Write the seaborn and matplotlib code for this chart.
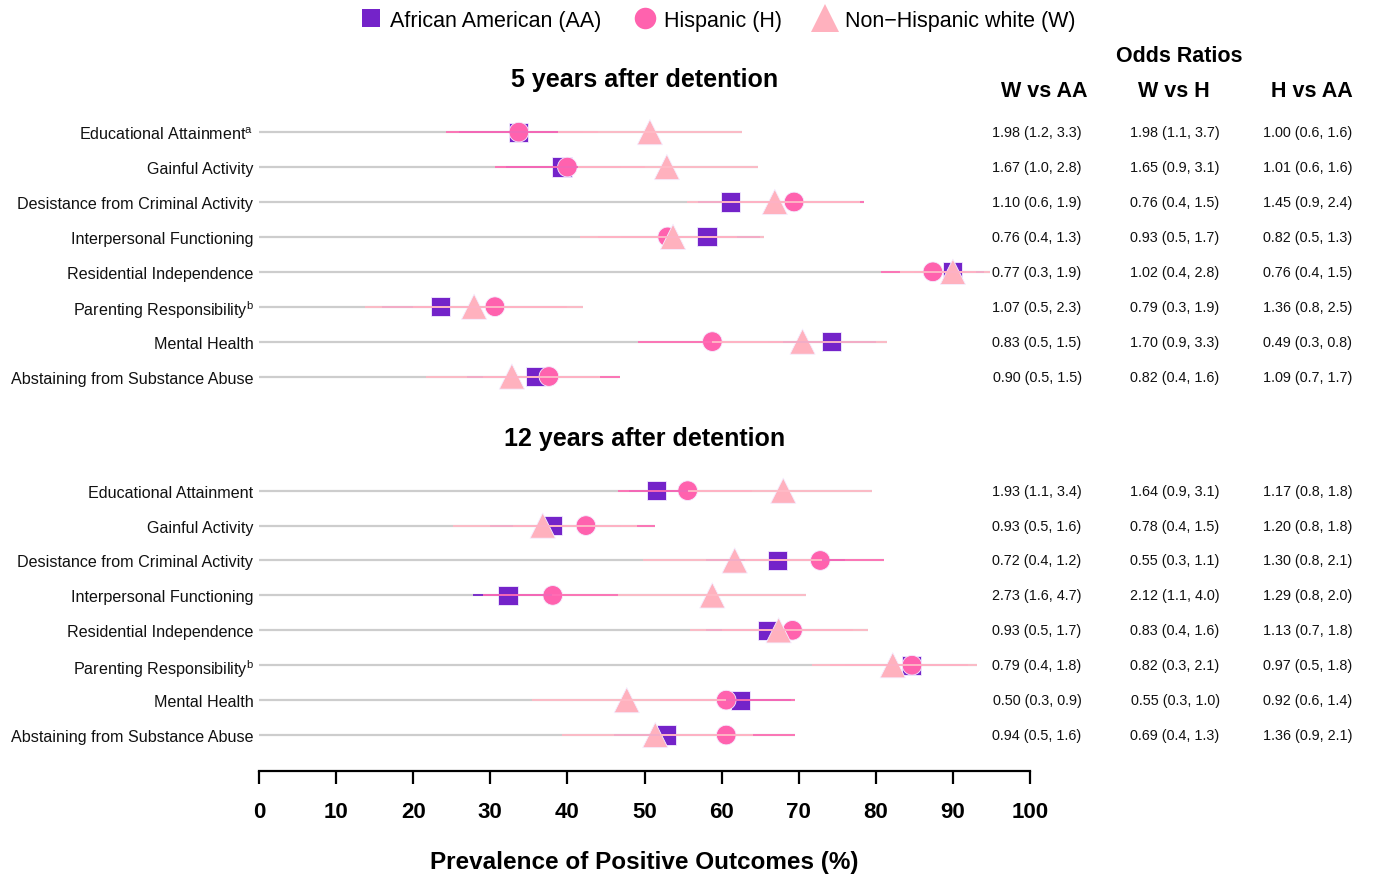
import pandas as pd
import seaborn as sns
import matplotlib.pyplot as plt
from matplotlib.lines import Line2D

# Outcome labels
outcomes_5 = ['Educational Attainment$^\\mathregular{a}$', 'Gainful Activity',
              'Desistance from Criminal Activity', 'Interpersonal Functioning',
              'Residential Independence', 'Parenting Responsibility$^\\mathregular{b}$',
              'Mental Health', 'Abstaining from Substance Abuse']
outcomes_12 = ['Educational Attainment', 'Gainful Activity',
               'Desistance from Criminal Activity', 'Interpersonal Functioning',
               'Residential Independence', 'Parenting Responsibility$^\\mathregular{b}$',
               'Mental Health', 'Abstaining from Substance Abuse']
groups = ['AA', 'H', 'W']
group_names = ['African American (AA)', 'Hispanic (H)', 'Non\u2212Hispanic white (W)']

# 5 years after detention: prevalence (%) and 95% CI
aa_5 = [33.7, 39.3, 61.1, 58.1, 90.0, 23.5, 74.2, 35.9]
aa_5_lo = [26, 32, 57, 47, 85, 16, 66, 27]
aa_5_hi = [42, 47, 70, 65, 94, 32, 80, 44]
h_5 = [33.7, 40.0, 69.4, 53.0, 87.4, 30.6, 58.8, 37.6]
h_5_lo = [24.3, 30.6, 60, 44, 80.7, 20, 49.2, 29]
h_5_hi = [44, 50, 78.5, 62, 93, 40, 68, 46.8]
w_5 = [50.7, 52.9, 66.9, 53.7, 90.0, 27.9, 70.5, 32.8]
w_5_lo = [38.8, 41.4, 55.5, 41.6, 83.1, 13.7, 58.8, 21.7]
w_5_hi = [62.6, 64.7, 78, 65.5, 94.8, 42, 81.4, 44.2]

# 12 years after detention
aa_12 = [51.6, 38.1, 67.2, 32.3, 66.0, 84.6, 62.5, 52.9]
aa_12_lo = [48, 30, 58, 27.8, 58, 76, 56, 46]
aa_12_hi = [56, 47, 76, 38, 74, 92, 69, 60]
h_12 = [55.6, 42.4, 72.8, 38.1, 69.2, 84.7, 60.6, 60.6]
h_12_lo = [46.6, 33, 63, 29, 60, 74, 52, 52]
h_12_hi = [64, 51.4, 81, 46.6, 77, 92, 69.5, 69.5]
w_12 = [68.0, 36.8, 61.7, 58.8, 67.4, 82.2, 47.7, 51.4]
w_12_lo = [55.6, 25.2, 49.8, 46.6, 55.9, 71.7, 35.4, 39.3]
w_12_hi = [79.5, 49, 73, 71, 79, 93.1, 60.6, 64.1]

# Odds ratios (95% CI)
or_w_aa_5 = ['1.98 (1.2, 3.3)', '1.67 (1.0, 2.8)', '1.10 (0.6, 1.9)', '0.76 (0.4, 1.3)',
             '0.77 (0.3, 1.9)', '1.07 (0.5, 2.3)', '0.83 (0.5, 1.5)', '0.90 (0.5, 1.5)']
or_w_h_5 = ['1.98 (1.1, 3.7)', '1.65 (0.9, 3.1)', '0.76 (0.4, 1.5)', '0.93 (0.5, 1.7)',
            '1.02 (0.4, 2.8)', '0.79 (0.3, 1.9)', '1.70 (0.9, 3.3)', '0.82 (0.4, 1.6)']
or_h_aa_5 = ['1.00 (0.6, 1.6)', '1.01 (0.6, 1.6)', '1.45 (0.9, 2.4)', '0.82 (0.5, 1.3)',
             '0.76 (0.4, 1.5)', '1.36 (0.8, 2.5)', '0.49 (0.3, 0.8)', '1.09 (0.7, 1.7)']
or_w_aa_12 = ['1.93 (1.1, 3.4)', '0.93 (0.5, 1.6)', '0.72 (0.4, 1.2)', '2.73 (1.6, 4.7)',
              '0.93 (0.5, 1.7)', '0.79 (0.4, 1.8)', '0.50 (0.3, 0.9)', '0.94 (0.5, 1.6)']
or_w_h_12 = ['1.64 (0.9, 3.1)', '0.78 (0.4, 1.5)', '0.55 (0.3, 1.1)', '2.12 (1.1, 4.0)',
             '0.83 (0.4, 1.6)', '0.82 (0.3, 2.1)', '0.55 (0.3, 1.0)', '0.69 (0.4, 1.3)']
or_h_aa_12 = ['1.17 (0.8, 1.8)', '1.20 (0.8, 1.8)', '1.30 (0.8, 2.1)', '1.29 (0.8, 2.0)',
              '1.13 (0.7, 1.8)', '0.97 (0.5, 1.8)', '0.92 (0.6, 1.4)', '1.36 (0.9, 2.1)']

sns.set_style('white')
plt.rcParams['font.family'] = ['Liberation Sans', 'DejaVu Sans']
plt.rcParams['mathtext.fontset'] = 'custom'
plt.rcParams['mathtext.rm'] = 'Liberation Sans'
plt.rcParams['text.color'] = 'black'
plt.rcParams['axes.labelcolor'] = 'black'
plt.rcParams['xtick.color'] = 'black'
plt.rcParams['ytick.color'] = 'black'

colors = {'AA': '#7423C9', 'H': '#FF62AE', 'W': '#FFB1BE'}
markers = {'AA': 's', 'H': 'o', 'W': '^'}
sizes = {'AA': 190, 'H': 200, 'W': 330}
line_colors = {'AA': '#7423C9', 'H': '#FF6EB4', 'W': '#FFBAC6'}

sections = [
    (0.0, outcomes_5, {'AA': (aa_5, aa_5_lo, aa_5_hi), 'H': (h_5, h_5_lo, h_5_hi),
                       'W': (w_5, w_5_lo, w_5_hi)}, (or_w_aa_5, or_w_h_5, or_h_aa_5)),
    (10.27, outcomes_12, {'AA': (aa_12, aa_12_lo, aa_12_hi), 'H': (h_12, h_12_lo, h_12_hi),
                          'W': (w_12, w_12_lo, w_12_hi)}, (or_w_aa_12, or_w_h_12, or_h_aa_12)),
]

records = []
for offset, labels, est, ors in sections:
    for i, lab in enumerate(labels):
        for g in groups:
            v, lo, hi = est[g]
            records.append({'outcome': lab, 'ypos': offset + i, 'group': g,
                            'value': v[i], 'lo': lo[i], 'hi': hi[i]})
df = pd.DataFrame(records)

fig = plt.figure(figsize=(13.73, 8.78), dpi=100)
ax = fig.add_axes([259 / 1373, 1 - 772 / 878, 771 / 1373, 657 / 878])

# grey baseline per row
rows = df.groupby('ypos').agg(hi=('hi', 'max')).reset_index()
ax.hlines(rows['ypos'], 0, rows['hi'], color='#CDCDCD', lw=1.6, zorder=1)

sns.scatterplot(data=df, x='value', y='ypos', hue='group', style='group', size='group',
                hue_order=groups, palette=colors, markers=markers, sizes=sizes,
                edgecolor='#F4EEFF', linewidth=0.6, legend=False, ax=ax, zorder=2)

# confidence intervals drawn over the markers
for k, g in enumerate(groups):
    sub = df[df['group'] == g]
    ax.hlines(sub['ypos'], sub['lo'], sub['hi'], color=line_colors[g], lw=1.3, zorder=3 + k)

ax.set_xlim(0, 100)
ax.set_ylim(18.3, -0.52)
ax.set_xticks(range(0, 101, 10))
ax.set_yticks(df['ypos'].unique())
ax.set_yticklabels(outcomes_5 + outcomes_12, fontsize=11.6, color='#111111')
ax.tick_params(axis='y', length=0, pad=4, left=False)
ax.tick_params(axis='x', bottom=True, length=9.5, width=1.6, color='black', pad=12,
               labelsize=16, labelcolor='black')
for t in ax.get_xticklabels():
    t.set_fontweight('bold')
sns.despine(ax=ax, left=True)
ax.spines['bottom'].set_linewidth(1.6)
ax.spines['bottom'].set_color('black')
ax.set_xlabel('Prevalence of Positive Outcomes (%)', fontsize=17.5, fontweight='bold', labelpad=20)
ax.set_ylabel('')

# section titles
ax.text(50, -1.52, '5 years after detention', ha='center', va='center',
        fontsize=18, fontweight='bold', clip_on=False)
ax.text(50, 8.77, '12 years after detention', ha='center', va='center',
        fontsize=18, fontweight='bold', clip_on=False)

# odds ratio table
ax.text(119.3, -2.19, 'Odds Ratios', ha='center', va='center', fontsize=15.5,
        fontweight='bold', clip_on=False)
for xc, head in zip([101.8, 118.7, 136.5], ['W vs AA', 'W vs H', 'H vs AA']):
    ax.text(xc, -1.18, head, ha='center', va='center', fontsize=15.5,
            fontweight='bold', clip_on=False)
for offset, labels, est, ors in sections:
    for xr, col in zip([106.7, 124.6, 141.8], ors):
        for i, s in enumerate(col):
            ax.text(xr, offset + i, s, ha='right', va='center', fontsize=10.4,
                    color='#111111', clip_on=False)

handles = [Line2D([], [], ls='none', marker=markers[g], color=colors[g],
                  markersize={'AA': 12.5, 'H': 15.5, 'W': 20}[g], markeredgewidth=0)
           for g in groups]
fig.legend(handles, group_names, loc='upper center', bbox_to_anchor=(0.522, 1.01),
           ncol=3, frameon=False, fontsize=15.5, handletextpad=0.3, columnspacing=1.4,
           handlelength=1.2)

fig.savefig('out.png', dpi=100)
